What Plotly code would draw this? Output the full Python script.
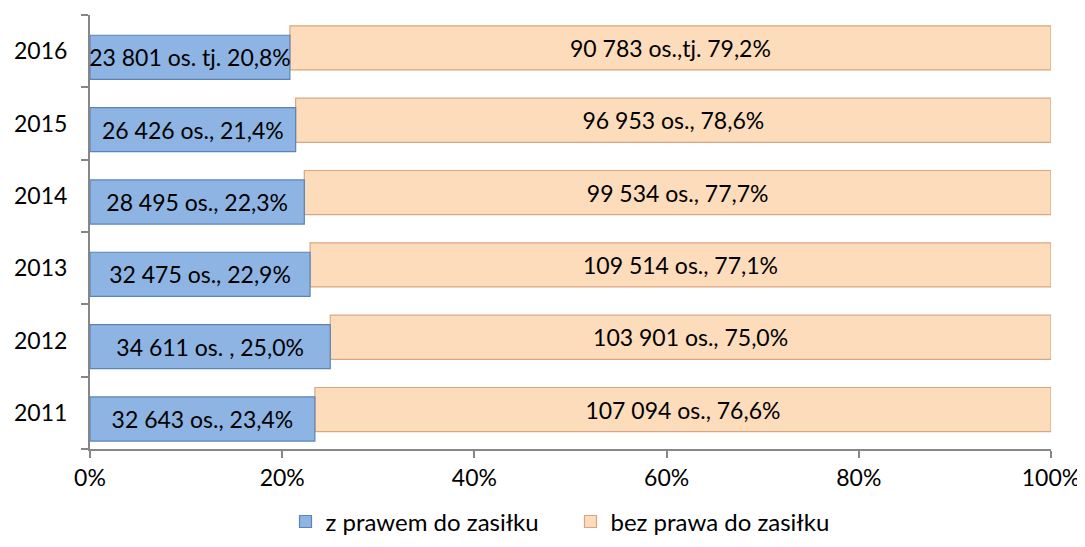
import plotly.graph_objects as go

years = ["2011", "2012", "2013", "2014", "2015", "2016"]
pct_with = [23.4, 25.0, 22.9, 22.3, 21.4, 20.8]
pct_without = [76.6, 75.0, 77.1, 77.7, 78.6, 79.2]
labels_with = ["32 643 os., 23,4%", "34 611 os. , 25,0%", "32 475 os., 22,9%",
               "28 495 os., 22,3%", "26 426 os., 21,4%", "23 801 os. tj. 20,8%"]
labels_without = ["107 094 os., 76,6%", "103 901 os., 75,0%", "109 514 os., 77,1%",
                  "99 534 os., 77,7%", "96 953 os., 78,6%", "90 783 os.,tj. 79,2%"]
series_names = ["z prawem do zasiłku", "bez prawa do zasiłku"]

FONT = "Lato"
fig = go.Figure()
fig.add_trace(go.Bar(
    y=years, x=pct_without, base=pct_with, orientation="h",
    name=series_names[1], text=labels_without, textposition="inside",
    insidetextanchor="middle", constraintext="none",
    textfont=dict(family=FONT, size=23, color="#000000"),
    marker=dict(color="#FDDCBC", line=dict(color="#D9A77F", width=1.2)),
    width=0.61, offset=-0.26, hoverinfo="skip",
))
fig.add_trace(go.Bar(
    y=years, x=pct_with, orientation="h",
    name=series_names[0], text=labels_with, textposition="inside",
    insidetextanchor="middle", constraintext="none",
    textfont=dict(family=FONT, size=23, color="#000000"),
    marker=dict(color="#8DB4E2", line=dict(color="#5A84B8", width=1.2)),
    width=0.61, offset=-0.39, hoverinfo="skip",
))

fig.update_layout(
    width=1077, height=539,
    barmode="overlay",
    paper_bgcolor="white", plot_bgcolor="white",
    margin=dict(l=82, r=34, t=7, b=98, autoexpand=False),
    font=dict(family=FONT, size=23, color="#000000"),
    showlegend=True,
    legend=dict(orientation="h", x=0.5, xanchor="center", y=-0.168, yanchor="middle",
                traceorder="reversed", font=dict(family=FONT, size=24),
                itemwidth=30, entrywidth=240, tracegroupgap=0),
    xaxis=dict(range=[0, 100], tickvals=[0, 20, 40, 60, 80, 100],
               ticktext=["0%", "20%", "40%", "60%", "80%", "100%"],
               showgrid=False, zeroline=False, showline=True, linecolor="#868686",
               linewidth=2, ticks="outside", ticklen=7, tickcolor="#868686", tickwidth=2,
               automargin=False, tickfont=dict(family=FONT, size=23)),
    yaxis=dict(type="category", categoryorder="array", categoryarray=years,
               showgrid=False, showline=True, linecolor="#868686", linewidth=2,
               ticks="outside", ticklen=7, tickcolor="#868686", tickwidth=2,
               tickson="boundaries", ticklabelstandoff=16, automargin=False,
               tickfont=dict(family=FONT, size=23)),
)
fig.write_html("out.html")
